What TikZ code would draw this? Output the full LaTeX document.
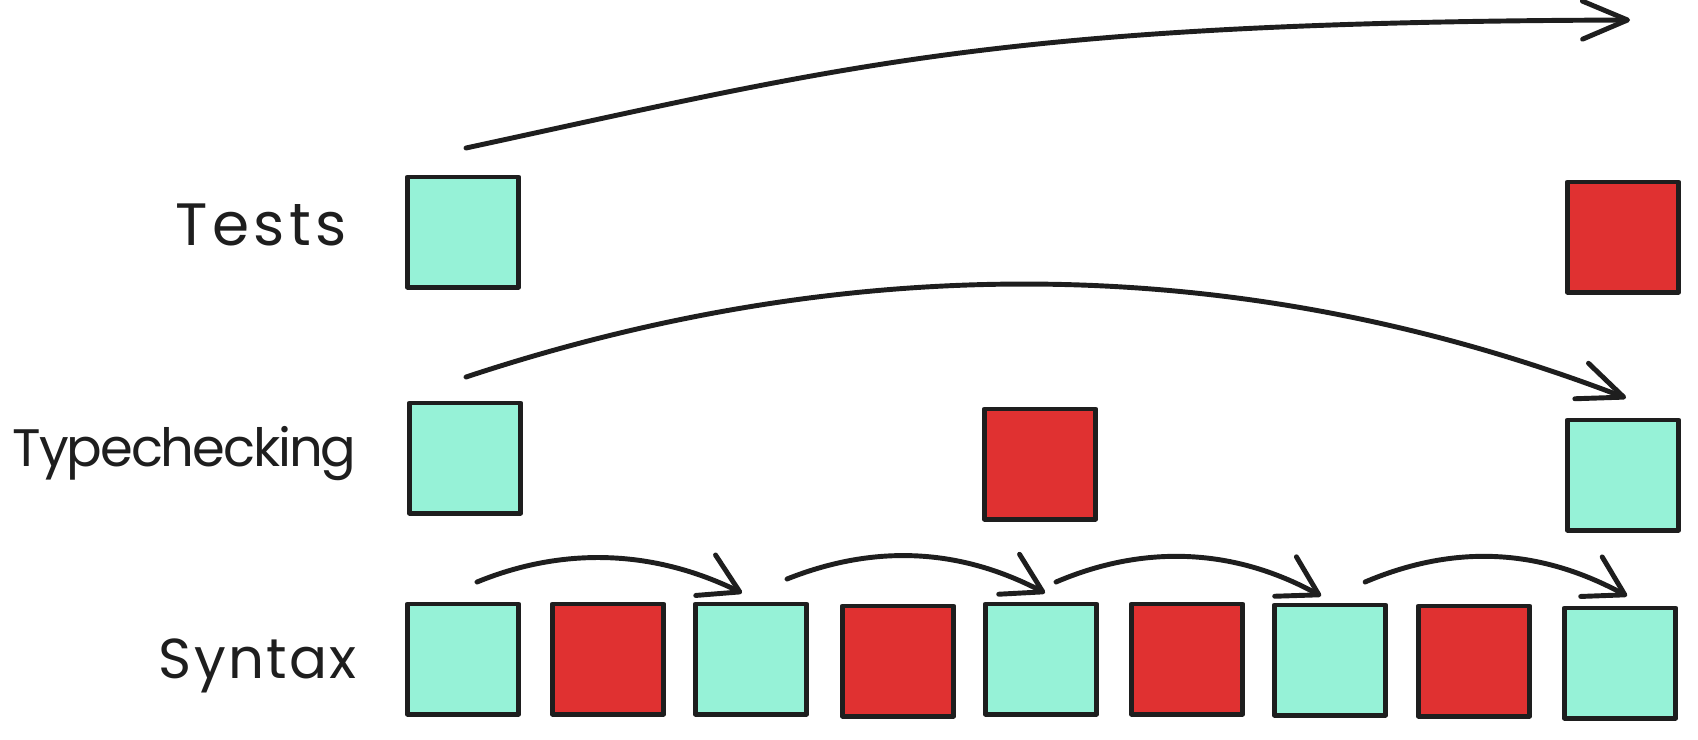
\documentclass[tikz,border=0pt]{standalone}
\usepackage{fontspec}
\setmainfont{Poppins}
\usetikzlibrary{arrows.meta}
\definecolor{okfill}{HTML}{96F2D7}
\definecolor{errfill}{HTML}{E03131}
\definecolor{ink}{HTML}{1E1E1E}
\begin{document}
\begin{tikzpicture}[x=0.01cm,y=-0.01cm,
  cell/.style={draw=ink, line width=1.4pt, minimum width=1.11cm, minimum height=1.1cm, inner sep=0pt, line join=round},
  pass/.style={cell, fill=okfill},
  fail/.style={cell, fill=errfill},
  lbl/.style={anchor=base east, inner sep=0pt, font=\fontsize{15}{18}\selectfont, text=ink},
  flow/.style={draw=ink, line width=1.4pt, line cap=round, -{Straight Barb[length=0.45cm,width=0.38cm,round]}},
  hop/.style={draw=ink, line width=1.4pt, line cap=round, -{Straight Barb[length=0.38cm,width=0.45cm,round]}}]
\useasboundingbox (0,0) rectangle (1698,739);

% labels
\node[lbl, font=\fontsize{17}{20}\selectfont] (lt) at (347,245) {\addfontfeature{LetterSpace=7}Tests};
\node[lbl] (lc) at (357,466) {\addfontfeature{LetterSpace=-4}Typechecking};
\node[lbl, font=\fontsize{16}{19}\selectfont] (ls) at (357,678) {\addfontfeature{LetterSpace=4}Syntax};

% Tests row
\node[pass] (t1) at (463,232) {};
\node[fail] (t2) at (1623,237) {};

% Typechecking row
\node[pass] (c1) at (465,458) {};
\node[fail] (c2) at (1040,464) {};
\node[pass] (c3) at (1623,475) {};

% Syntax row
\node[pass] (s1) at (463,659) {};
\node[fail] (s2) at (608,659) {};
\node[pass] (s3) at (751,659) {};
\node[fail] (s4) at (898,661) {};
\node[pass] (s5) at (1041,659) {};
\node[fail] (s6) at (1187,659) {};
\node[pass] (s7) at (1330,660) {};
\node[fail] (s8) at (1474,661) {};
\node[pass] (s9) at (1620,663) {};

% arrow end points
\coordinate (ta) at (466,148);
\coordinate (tb) at (1630,20);
\coordinate (ca) at (466,377);
\coordinate (cb) at (1626,398);
\coordinate (h1a) at (477,582);
\coordinate (h1b) at (742,593);
\coordinate (h2a) at (787,579);
\coordinate (h2b) at (1045,593);
\coordinate (h3a) at (1056,582);
\coordinate (h3b) at (1321,596);
\coordinate (h4a) at (1365,582);
\coordinate (h4b) at (1627,596);

% long arrows
\draw[flow] (ta) .. controls (850,65) and (1000,22) .. (tb);
\draw[flow] (ca) .. controls (850,250) and (1240,250) .. (cb);

% short hops
\draw[hop] (h1a) .. controls (560,548) and (650,548) .. (h1b);
\draw[hop] (h2a) .. controls (870,546) and (955,546) .. (h2b);
\draw[hop] (h3a) .. controls (1140,546) and (1230,546) .. (h3b);
\draw[hop] (h4a) .. controls (1450,546) and (1535,546) .. (h4b);
\end{tikzpicture}
\end{document}
